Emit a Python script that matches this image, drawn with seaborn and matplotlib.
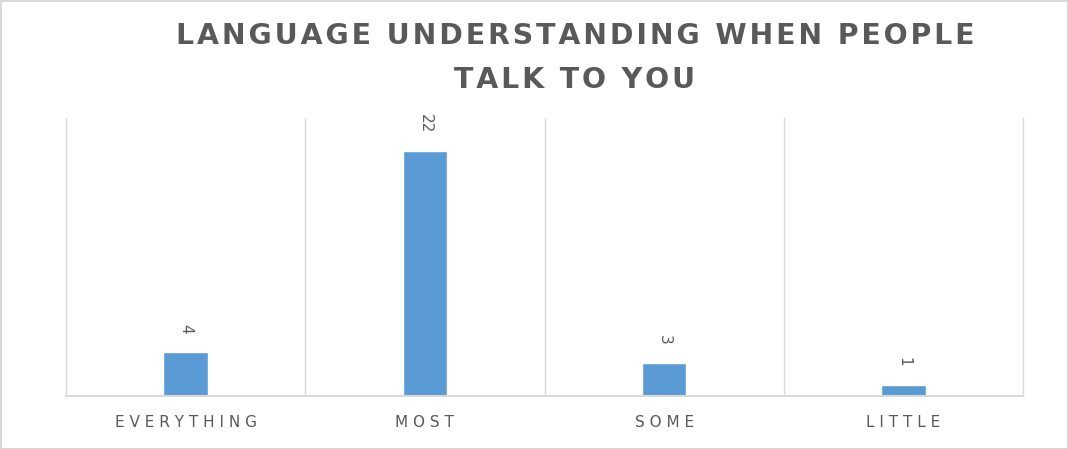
import matplotlib
matplotlib.use("Agg")
import matplotlib.pyplot as plt
import seaborn as sns
import numpy as np

categories = ["EVERYTHING", "MOST", "SOME", "LITTLE"]
values = [4, 22, 3, 1]
title_lines = ["LANGUAGE UNDERSTANDING WHEN PEOPLE", "TALK TO YOU"]

BAR = "#5B9BD5"
GRID = "#D9D9D9"
TEXT = "#595959"


def spaced(s, sep="\u200a"):
    # fake letter spacing
    return sep.join(s)


sns.set_theme(style="white")
plt.rcParams["font.family"] = ["DejaVu Sans"]

fig = plt.figure(figsize=(10.68, 4.49), dpi=100)
fig.patch.set_edgecolor(GRID)
fig.patch.set_linewidth(2)
ax = fig.add_axes([66 / 1068, 53 / 449, (1023 - 66) / 1068, (396 - 118) / 449])

sns.barplot(x=categories, y=values, color=BAR, width=0.185, saturation=1, ax=ax)

ax.set_ylim(0, 25)
ax.set_xlim(-0.5, len(categories) - 0.5)
ax.set_yticks([])
for b in np.arange(-0.5, len(categories)):
    ax.axvline(b, color=GRID, linewidth=1, clip_on=False, zorder=0)
ax.tick_params(axis="x", which="both", length=0, pad=14)
ax.set_xticks(range(len(categories)))
ax.set_xticklabels([spaced(c, " ") for c in categories], fontsize=11, color=TEXT)
ax.set_xlabel("")
ax.set_ylabel("")
for side in ["top", "left", "right"]:
    ax.spines[side].set_visible(False)
ax.spines["bottom"].set_color(GRID)
ax.spines["bottom"].set_linewidth(1.5)

for i, v in enumerate(values):
    ax.annotate(str(v), (i, v), xytext=(0, 13), textcoords="offset points",
                ha="center", va="bottom", rotation=-90, fontsize=11, color=TEXT)

fig.text(575 / 1068, 1 - 36 / 449, spaced(title_lines[0]), ha="center", va="center",
         fontsize=20.4, fontweight="bold", color=TEXT)
fig.text(575 / 1068, 1 - 80 / 449, spaced(title_lines[1]), ha="center", va="center",
         fontsize=20.4, fontweight="bold", color=TEXT)

fig.savefig("out.png", dpi=100, edgecolor=fig.get_edgecolor())
